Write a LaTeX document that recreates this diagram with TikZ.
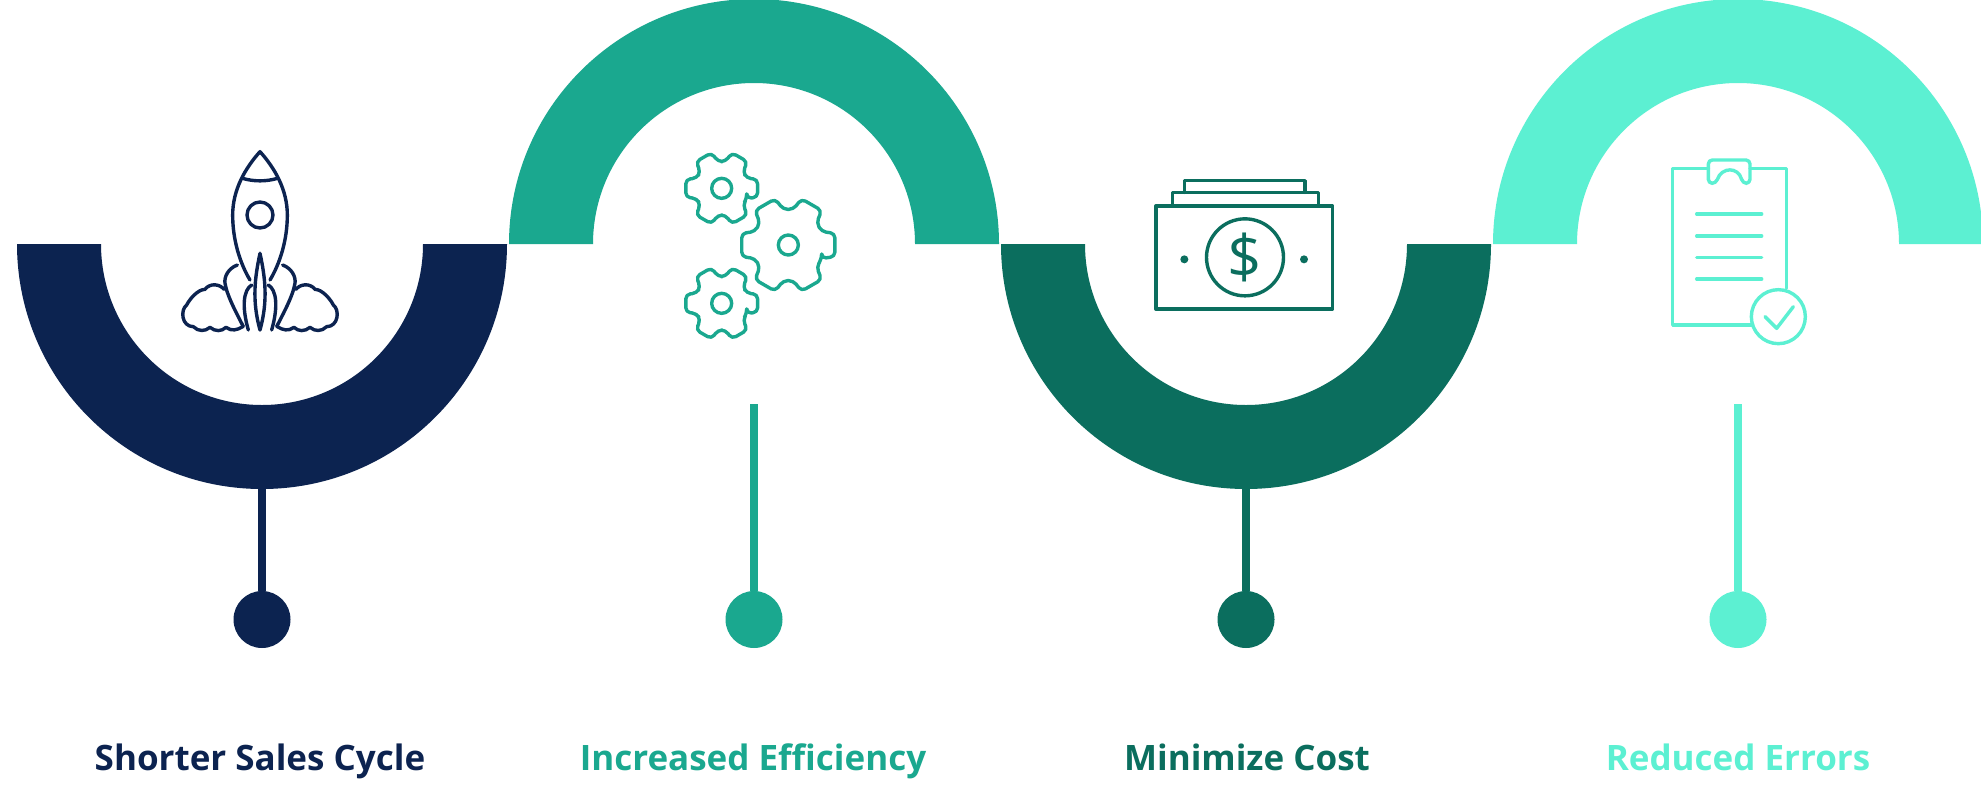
\documentclass[tikz,border=0pt]{standalone}
\usepackage{fontspec}
\setmainfont{Open Sans}
\definecolor{cnavy}{HTML}{0C2350}
\definecolor{cteal}{HTML}{1AA88F}
\definecolor{cdark}{HTML}{0B6E5E}
\definecolor{cmint}{HTML}{5CF0D2}
\tikzset{
  dotnode/.style={circle,minimum size=57pt,inner sep=0pt,fill=#1},
  stemline/.style={line width=8pt,draw=#1},
  labelnode/.style={font=\bfseries\fontsize{35}{40}\selectfont,text=#1,inner sep=0pt,anchor=base},
  iconline/.style={draw=#1,line width=3.4pt,line join=round,line cap=round,fill=none},
  zoomcoords/.style={x=.33333pt,y=-.33333pt}
}
\newcommand{\cogicon}[5]{% x,y,R,r,colour
  \draw[iconline=#5,rounded corners=4.5pt,shift={(#1,#2)}] (-22:#4) \foreach \a in {0,60,...,300} { -- (\a-14:#3) -- (\a+14:#3) -- (\a+22:#4) -- (\a+38:#4) } -- cycle;
}
\begin{document}
\begin{tikzpicture}[x=1pt,y=-1pt]
\useasboundingbox (0,0) rectangle (1981,801);
\fill[white] (0,0) rectangle (1981,801);
% arcs
\fill[cnavy] (17,244) arc[start angle=180,end angle=360,radius=245pt] -- (423,244) arc[start angle=360,end angle=180,radius=161pt] -- cycle;
\fill[cteal] (509,244) arc[start angle=180,end angle=0,radius=245pt] -- (915,244) arc[start angle=0,end angle=180,radius=161pt] -- cycle;
\fill[cdark] (1001,244) arc[start angle=180,end angle=360,radius=245pt] -- (1407,244) arc[start angle=360,end angle=180,radius=161pt] -- cycle;
\fill[cmint] (1493,244) arc[start angle=180,end angle=0,radius=245pt] -- (1899,244) arc[start angle=0,end angle=180,radius=161pt] -- cycle;
% dots, stems
\coordinate (s1) at (262,486);
\coordinate (s2) at (754,404);
\coordinate (s3) at (1246,486);
\coordinate (s4) at (1738,404);
\node[dotnode=cnavy] (d1) at (262,619.5) {};
\node[dotnode=cteal] (d2) at (754,619.5) {};
\node[dotnode=cdark] (d3) at (1246,619.5) {};
\node[dotnode=cmint] (d4) at (1738,619.5) {};
\draw[stemline=cnavy] (s1) -- (d1);
\draw[stemline=cteal] (s2) -- (d2);
\draw[stemline=cdark] (s3) -- (d3);
\draw[stemline=cmint] (s4) -- (d4);
% labels
\node[labelnode=cnavy] (l1) at (260,770) {Shorter Sales Cycle};
\node[labelnode=cteal] (l2) at (753,770) {Increased Efficiency};
\node[labelnode=cdark] (l3) at (1247,770) {Minimize Cost};
\node[labelnode=cmint] (l4) at (1738,770) {Reduced Errors};
% rocket
\begin{scope}[shift={(150,130)},zoomcoords]
\draw[iconline=cnavy] (300,450) .. controls (270,400) and (248,330) .. (248,255) .. controls (248,180) and (285,115) .. (330,65) .. controls (375,115) and (412,180) .. (412,255) .. controls (412,330) and (390,400) .. (360,450);
\draw[iconline=cnavy] (278,145) .. controls (310,155) and (350,155) .. (382,145);
\draw[iconline=cnavy] (330,255) circle[radius=13pt];
\draw[iconline=cnavy] (330,370) .. controls (315,440) and (305,510) .. (330,600) .. controls (355,510) and (345,440) .. (330,370);
\draw[iconline=cnavy] (305,465) .. controls (280,480) and (275,530) .. (295,600);
\draw[iconline=cnavy] (355,465) .. controls (380,480) and (385,530) .. (365,600);
\draw[iconline=cnavy] (262,405) .. controls (235,415) and (222,440) .. (225,460) .. controls (232,500) and (260,550) .. (280,590);
\draw[iconline=cnavy] (398,405) .. controls (425,415) and (438,440) .. (435,460) .. controls (428,500) and (400,550) .. (380,590);
\draw[iconline=cnavy] (222,478) .. controls (210,462) and (180,458) .. (165,478) .. controls (145,478) and (120,505) .. (110,525) .. controls (90,540) and (95,590) .. (130,590) .. controls (145,605) and (165,605) .. (180,592) .. controls (195,605) and (215,605) .. (228,592) .. controls (245,605) and (262,600) .. (278,590);
\draw[iconline=cnavy] (438,478) .. controls (450,462) and (480,458) .. (495,478) .. controls (515,478) and (540,505) .. (550,525) .. controls (570,540) and (565,590) .. (530,590) .. controls (515,605) and (495,605) .. (480,592) .. controls (465,605) and (445,605) .. (432,592) .. controls (415,605) and (398,600) .. (382,590);
\end{scope}
% gears
\begin{scope}[shift={(660,130)},zoomcoords]
\draw[iconline=cteal] (185,175) circle[radius=10pt];
\draw[iconline=cteal] (385,345) circle[radius=10pt];
\draw[iconline=cteal] (185,520) circle[radius=10pt];
\end{scope}
\cogicon{721.7}{188.3}{37pt}{27pt}{cteal}
\cogicon{788.3}{245}{48pt}{36pt}{cteal}
\cogicon{721.7}{303.3}{37pt}{27pt}{cteal}
% money
\begin{scope}[shift={(1140,160)},zoomcoords]
\draw[iconline=cdark] (48,138) rectangle (578,447);
\draw[iconline=cdark] (97,138) -- (97,97) -- (535,97) -- (535,138);
\draw[iconline=cdark] (133,97) -- (133,62) -- (495,62) -- (495,97);
\draw[iconline=cdark] (315,292) circle[radius=38.5pt];
\fill[cdark] (133,298) circle[radius=4pt] (492,298) circle[radius=4pt];
\node[text=cdark,font=\fontsize{60}{60}\selectfont,inner sep=0pt] (dollar) at (315,292) {\$};
\end{scope}
% clipboard
\begin{scope}[shift={(1650,140)},zoomcoords]
\draw[iconline=cmint] (410,445) -- (410,85) -- (300,85);
\draw[iconline=cmint] (175,85) -- (68,85) -- (68,555) -- (305,555);
\draw[iconline=cmint,rounded corners=4pt] (175,60) -- (300,60) -- (300,130) -- (278,130) .. controls (265,80) and (215,80) .. (198,130) -- (175,130) -- cycle;
\foreach \yy in {222,288,352,417} \draw[iconline=cmint] (140,\yy) -- (335,\yy);
\draw[iconline=cmint] (385,530) circle[radius=27pt];
\draw[iconline=cmint] (345,530) -- (380,565) -- (430,500);
\end{scope}
\end{tikzpicture}
\end{document}
